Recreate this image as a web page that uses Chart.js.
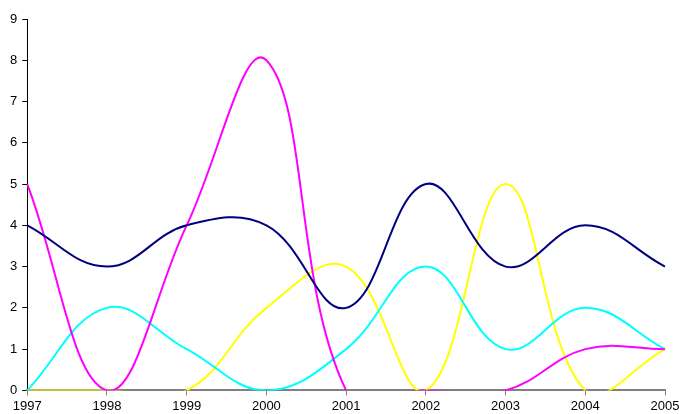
<!DOCTYPE html>
<html><head><meta charset="utf-8">
<script src="https://cdn.jsdelivr.net/npm/chart.js@4/dist/chart.umd.min.js"></script>
<style>html,body{margin:0;padding:0;background:#fff}canvas{display:block}</style>
</head><body><canvas id="c" width="679" height="414"></canvas>
<script>
const years = ['1997','1998','1999','2000','2001','2002','2003','2004','2005'];
const navy    = [4,3,4,4,2,5,3,4,3];
const magenta = [5,0,4,8,0,0,0,1,1];
const cyan    = [0,2,1,0,1,3,1,2,1];
const yellow  = [0,0,0,2,3,0,5,0,1];
const yTicks  = [0,1,2,3,4,5,6,7,8,9];

function ds(label, data, color){
  return {label, data, borderColor: color, backgroundColor: color, borderWidth: 2,
    pointRadius: 0, tension: 0.4, fill: false, capBezierPoints: false};
}
new Chart(document.getElementById('c'), {
  type: 'line',
  data: { labels: years, datasets: [
    ds('navy', navy, '#000080'),
    ds('magenta', magenta, '#FF00FF'),
    ds('cyan', cyan, '#00FFFF'),
    ds('yellow', yellow, '#FFFF00')
  ]},
  options: {
    responsive: false, animation: false, devicePixelRatio: 1,
    layout: { padding: { left: 5, right: 0, top: 19, bottom: -3 } },
    plugins: { legend: { display: false }, tooltip: { enabled: false } },
    elements: { line: { capBezierPoints: false } },
    scales: {
      x: { offset: false,
        afterFit: (s) => { s.paddingRight = 14; },
        grid: { drawOnChartArea: false, drawTicks: true, tickLength: 5, color: '#808080' },
        border: { color: '#808080', width: 2 },
        ticks: { color: '#000', font: { family: 'Liberation Sans, Arial', size: 13 }, padding: 3, maxRotation: 0, autoSkip: false }
      },
      y: { min: 0, max: 9,
        afterBuildTicks: (s) => { s.ticks = yTicks.map(v => ({value: v})); },
        grid: { drawOnChartArea: false, drawTicks: true, tickLength: 5, color: '#000' },
        border: { color: '#000', width: 1 },
        ticks: { color: '#000', font: { family: 'Liberation Sans, Arial', size: 13 }, padding: 5, autoSkip: false }
      }
    }
  }
});
</script>
</body></html>
